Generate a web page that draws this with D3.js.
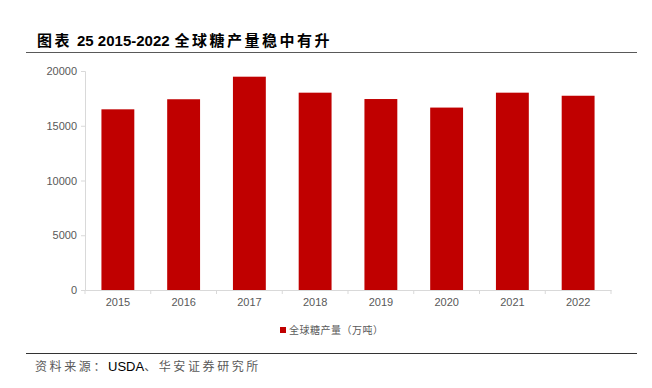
<!DOCTYPE html>
<html>
<head>
<meta charset="utf-8">
<script src="https://cdn.jsdelivr.net/npm/d3@7"></script>
<style>
  body { margin: 0; background: #fff; }
  svg { display: block; }
</style>
</head>
<body>
<div id="chart"></div>
<script>
// data
const years = ["2015", "2016", "2017", "2018", "2019", "2020", "2021", "2022"];
const output = [16500, 17420, 19480, 18020, 17440, 16660, 18020, 17740];
const yTicks = [0, 5000, 10000, 15000, 20000];

const W = 652, H = 388;
const margin = {top: 71, right: 41, bottom: 98, left: 85},
    width = W - margin.left - margin.right,
    height = H - margin.top - margin.bottom;

const cjk = "'Noto Sans CJK SC', sans-serif";
const latin = "'Liberation Sans', Arial, sans-serif";

const svg = d3.select("#chart")
    .append("svg")
    .attr("width", W)
    .attr("height", H);

// title and rule under it
svg.append("text")
    .attr("x", 37)
    .attr("y", 46)
    .attr("font-size", "15px")
    .attr("font-weight", 700)
    .style("fill", "#000")
    .call(t => {
        t.append("tspan").attr("font-family", cjk).attr("letter-spacing", "2.5px").text("图表");
        t.append("tspan").attr("font-family", latin).attr("dx", 5).text("25 2015-2022");
        t.append("tspan").attr("font-family", cjk).attr("dx", 5).attr("letter-spacing", "2.5px").text("全球糖产量稳中有升");
    });
svg.append("line")
    .attr("x1", 26).attr("x2", 637)
    .attr("y1", 52.5).attr("y2", 52.5)
    .attr("stroke", "#595959").attr("stroke-width", 1.2);

const g = svg.append("g")
    .attr("transform", `translate(${margin.left},${margin.top})`);

// scales
const x = d3.scaleBand()
    .domain(years)
    .range([0, width])
    .paddingInner(0.5)
    .paddingOuter(0.25);
const y = d3.scaleLinear()
    .domain([0, 20000])
    .range([height, 0]);

// y axis
const yAxis = g.append("g")
    .call(d3.axisLeft(y).tickValues(yTicks).tickFormat(d3.format("d")).tickSize(4).tickPadding(4));
yAxis.select(".domain").attr("stroke", "#d9d9d9");
yAxis.selectAll(".tick line").attr("stroke", "#d9d9d9");
yAxis.selectAll("text")
    .attr("font-family", latin)
    .attr("font-size", "11px")
    .attr("fill", "#595959");

// x axis with ticks on the band edges
const xAxis = g.append("g")
    .attr("transform", `translate(0,${height})`)
    .call(d3.axisBottom(x).tickSize(0).tickPadding(8));
xAxis.select(".domain").attr("stroke", "#d9d9d9");
xAxis.selectAll("text")
    .attr("font-family", latin)
    .attr("font-size", "11px")
    .attr("fill", "#595959");
g.append("g")
    .selectAll("line")
    .data(d3.range(years.length + 1))
    .enter()
    .append("line")
    .attr("x1", d => d * width / years.length)
    .attr("x2", d => d * width / years.length)
    .attr("y1", height)
    .attr("y2", height + 4)
    .attr("stroke", "#d9d9d9");

// bars
g.append("g")
    .selectAll("rect")
    .data(output)
    .enter()
    .append("rect")
    .attr("x", (d, i) => x(years[i]))
    .attr("y", d => y(d))
    .attr("width", x.bandwidth())
    .attr("height", d => height - y(d))
    .attr("fill", "#c00000");

// legend
svg.append("rect")
    .attr("x", 280).attr("y", 327)
    .attr("width", 6).attr("height", 6)
    .attr("fill", "#c00000");
svg.append("text")
    .attr("x", 289).attr("y", 334)
    .attr("font-family", cjk)
    .attr("font-size", "10px")
    .attr("letter-spacing", "0.5px")
    .style("fill", "#595959")
    .text("全球糖产量（万吨）");

// footer
svg.append("line")
    .attr("x1", 26).attr("x2", 637)
    .attr("y1", 353.5).attr("y2", 353.5)
    .attr("stroke", "#333").attr("stroke-width", 1);
svg.append("text")
    .attr("x", 35).attr("y", 371)
    .attr("font-size", "12px")
    .call(t => {
        t.append("tspan").attr("font-family", cjk).attr("letter-spacing", "2.6px").style("fill", "#595959").text("资料来源：");
        t.append("tspan").attr("font-family", latin).attr("font-size", "13px").style("fill", "#000").text("USDA");
        t.append("tspan").attr("font-family", cjk).attr("letter-spacing", "2.6px").style("fill", "#595959").text("、华安证券研究所");
    });
</script>
</body>
</html>
